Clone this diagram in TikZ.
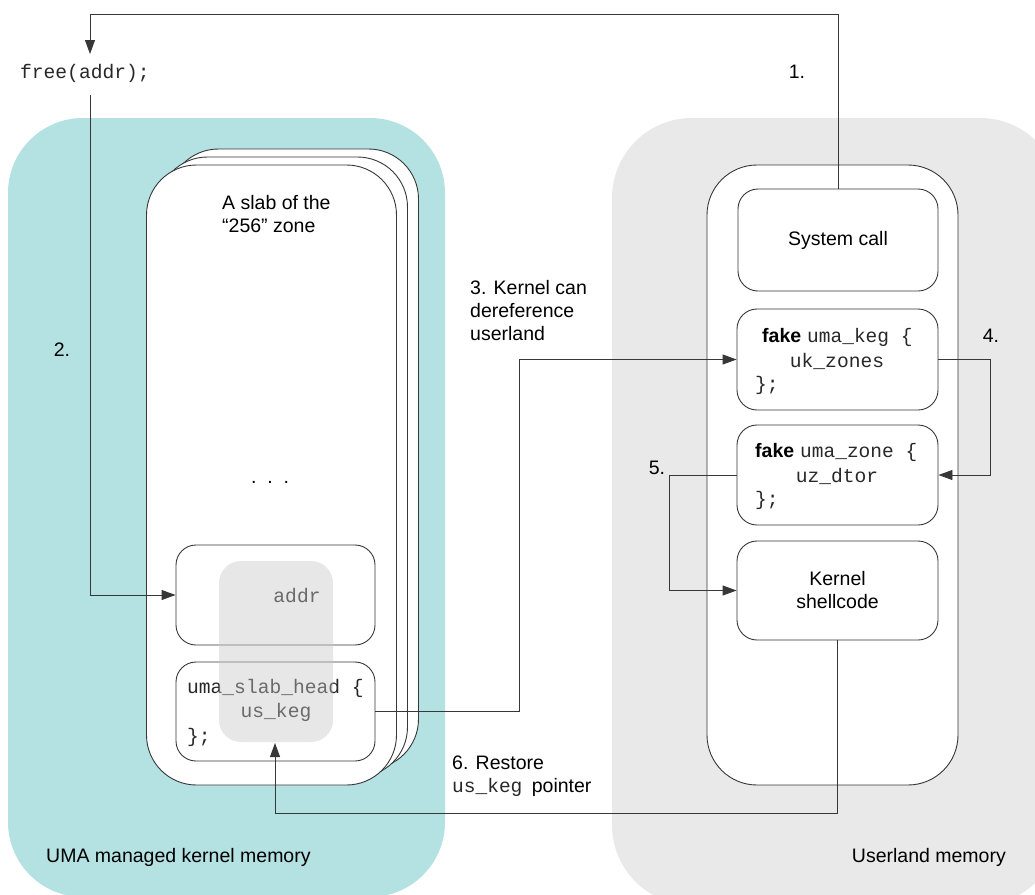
\documentclass[tikz,border=0pt]{standalone}
\usepackage{fontspec}
\setmainfont{Liberation Sans}
\setmonofont{Liberation Mono}
\usetikzlibrary{arrows.meta}
\definecolor{teal1}{RGB}{180,225,226}
\definecolor{gray1}{RGB}{233,233,233}
\definecolor{linec}{RGB}{55,55,55}
\definecolor{monoc}{RGB}{40,40,40}
\begin{document}
\begin{tikzpicture}[x=1pt,y=-1pt,
  every node/.style={font=\fontsize{19.5}{23}\selectfont, inner sep=0pt, text=black},
  mono/.style={font=\fontsize{19.6}{23}\selectfont\ttfamily, text=monoc},
  box/.style={draw=linec, fill=white, rounded corners=20pt, line width=0.9pt, minimum width=200pt, minimum height=100pt},
  bigbox/.style={draw=linec, fill=white, rounded corners=50pt, line width=0.9pt, minimum width=250pt, minimum height=620pt},
  arr/.style={draw=linec, line width=0.9pt, -{Triangle[length=14pt,width=10pt]}},
  lbl/.style={anchor=west, align=left}
]
\useasboundingbox (0,0) rectangle (1035,894);
\clip (0,0) rectangle (1035,894);
\fill[white] (0,0) rectangle (1035,894);
% regions
\fill[teal1, rounded corners=75pt] (8,118) rectangle (445,897);
\fill[gray1, rounded corners=80pt] (612,118) rectangle (1060,905);
\node[anchor=west] (uma) at (46,857) {UMA managed kernel memory};
\node[anchor=east] (userl) at (1006,857) {Userland memory};
% slab stack
\node[bigbox] (slab3) at (293.5,459) {};
\node[bigbox] (slab2) at (282.5,467) {};
\node[bigbox] (slab1) at (271.5,475) {};
\node[lbl] (slabt) at (222,214.5) {A slab of the\\“256” zone};
\node (dots) at (270,482) {.\ \ .\ \ .};
\node[box, minimum width=199pt] (addr) at (275.5,595) {};
\node[box, minimum width=199pt, minimum height=99pt] (head) at (275.5,711.5) {};
\node[mono, anchor=west] (headt1) at (187,688) {uma\_slab\_head \{};
\node[mono] (headt2) at (276,712) {us\_keg};
\node[mono, anchor=west] (headt3) at (187,737) {\};};
\node[mono] (addrt) at (297,596) {addr};
\fill[black!22, fill opacity=0.42, rounded corners=22pt] (219,561) rectangle (333,742);
% right column
\node[bigbox, minimum width=251pt] (ucol) at (832.5,475) {};
\node[box, minimum height=102pt] (sysc) at (838,240) {System call};
\node[box, minimum width=201pt, minimum height=101pt] (keg) at (837.5,359.5) {};
\node[anchor=west] (kegt1) at (762,337) {\textbf{fake}\hspace{6pt}\texttt{\color{monoc}uma\_keg \{}};
\node[mono] (kegt2) at (837,361) {uk\_zones};
\node[mono, anchor=west] (kegt3) at (755,385) {\};};
\node[box, minimum width=201pt] (zone) at (837.5,475) {};
\node[anchor=west] (zonet1) at (755,452) {\textbf{fake}\hspace{6pt}\texttt{\color{monoc}uma\_zone \{}};
\node[mono] (zonet2) at (837,476) {uz\_dtor};
\node[mono, anchor=west] (zonet3) at (755,500) {\};};
\node[box, minimum width=201pt, minimum height=99pt, align=center] (shell) at (837.5,590.5) {Kernel\\shellcode};
% free
\node[mono, anchor=west] (free) at (20,73) {free(addr);};
\coordinate (f0) at (90,14);
\coordinate (f1) at (90,54);
\coordinate (f2) at (90,95);
\coordinate (h6) at (275,743);
% labels
\node (l1) at (797,72) {1.};
\node (l2) at (62,350) {2.};
\node[lbl] (l3) at (470,311) {3. Kernel can\\dereference\\userland};
\node (l4) at (991,336) {4.};
\node (l5) at (657,468) {5.};
\node[lbl] (l6) at (452,776.5) {6. Restore\\\texttt{\color{monoc}us\_keg}\hspace{4pt} pointer};
% connectors
\draw[arr] (sysc.north) -- (sysc.north |- f0) -- (f0) -- (f1);
\draw[arr] (f2) |- (addr.west);
\draw[arr] (head.east) -- ++(144,0) |- (keg.west);
\draw[arr] (keg.east) -- ++(52,0) |- (zone.east);
\draw[arr] (zone.west) -- ++(-67,0) |- (shell.west);
\draw[arr] (shell.south) -- ++(0,173) -| (h6);
\end{tikzpicture}
\end{document}
